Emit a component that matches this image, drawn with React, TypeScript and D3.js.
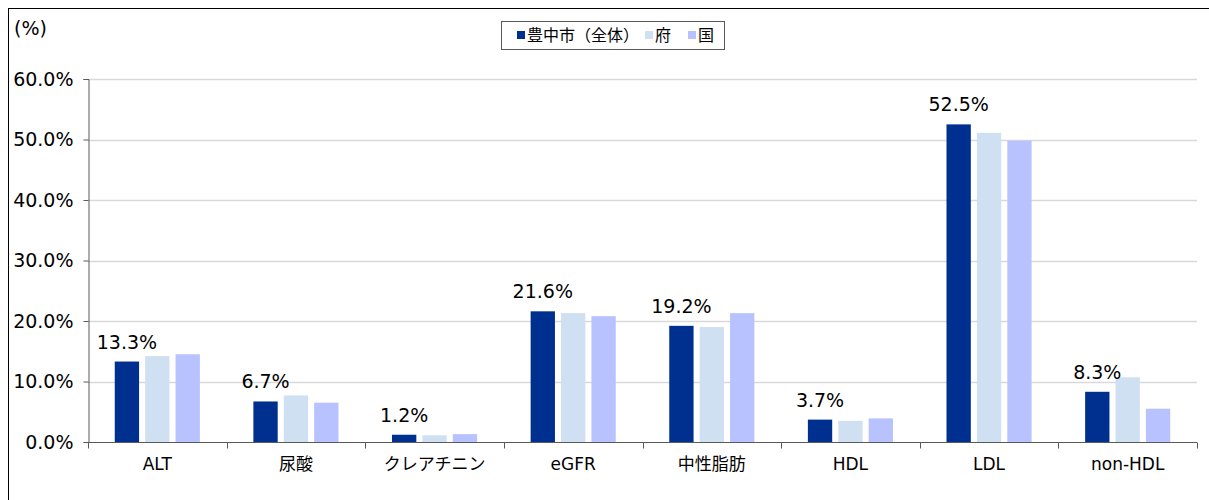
import React, { useEffect, useRef } from "react";
import * as d3 from "d3";

const width = 1209;
const height = 500;
const marginLeft = 88;
const marginRight = 12;
const marginTop = 79;
const marginBottom = 58;

const categories = ["ALT", "尿酸", "クレアチニン", "eGFR", "中性脂肪", "HDL", "LDL", "non-HDL"];
const seriesNames = ["豊中市（全体）", "府", "国"];
const toyonaka = [13.3, 6.7, 1.2, 21.6, 19.2, 3.7, 52.5, 8.3];
const osakaFu = [14.2, 7.7, 1.1, 21.3, 19.0, 3.5, 51.1, 10.7];
const national = [14.5, 6.5, 1.3, 20.8, 21.3, 3.9, 49.8, 5.5];
const yTicks = [0, 10, 20, 30, 40, 50, 60];
const colors = ["#00308f", "#cfe0f2", "#b8c2ff"];

const font = "'DejaVu Sans', 'Noto Sans CJK JP', sans-serif";

export default function App() {
  const ref = useRef<SVGSVGElement>(null);

  useEffect(() => {
    const svg = d3.select(ref.current);
    svg.selectAll("*").remove();

    const values = [toyonaka, osakaFu, national];

    const x0 = d3
      .scaleBand()
      .domain(categories)
      .range([marginLeft, width - marginRight]);

    const x1 = d3
      .scaleBand()
      .domain(seriesNames)
      .range([0, x0.bandwidth()])
      .paddingInner(0.2)
      .paddingOuter(0.88);

    const y = d3
      .scaleLinear()
      .domain([0, 60])
      .range([height - marginBottom, marginTop]);

    // 外枠
    svg
      .append("rect")
      .attr("x", 8.5)
      .attr("y", 8.5)
      .attr("width", width)
      .attr("height", height)
      .attr("fill", "none")
      .attr("stroke", "#000");

    // グリッド線
    svg
      .append("g")
      .selectAll("line")
      .data(yTicks.filter(d => d > 0))
      .join("line")
      .attr("x1", marginLeft)
      .attr("x2", width - marginRight)
      .attr("y1", d => Math.round(y(d)) + 0.5)
      .attr("y2", d => Math.round(y(d)) + 0.5)
      .attr("stroke", "#d9d9d9")
      .attr("stroke-width", 1.5);

    // 棒
    seriesNames.forEach((name, si) => {
      svg
        .append("g")
        .selectAll("rect")
        .data(categories)
        .join("rect")
        .attr("x", c => (x0(c) as number) + (x1(name) as number))
        .attr("y", (c, i) => y(values[si][i]))
        .attr("width", x1.bandwidth())
        .attr("height", (c, i) => y(0) - y(values[si][i]))
        .attr("fill", colors[si]);
    });

    // 値ラベル（豊中市のみ）
    svg
      .append("g")
      .attr("font-family", font)
      .attr("font-size", 19)
      .attr("text-anchor", "middle")
      .selectAll("text")
      .data(categories)
      .join("text")
      .attr("x", c => (x0(c) as number) + (x1(seriesNames[0]) as number) + x1.bandwidth() / 2)
      .attr("y", (c, i) => y(toyonaka[i]) - 13)
      .attr("fill", "#000")
      .text((c, i) => `${toyonaka[i].toFixed(1)}%`);

    // Y軸
    svg
      .append("g")
      .attr("transform", `translate(${marginLeft + 0.5},0)`)
      .call(
        d3
          .axisLeft(y)
          .tickValues(yTicks)
          .tickSize(5)
          .tickPadding(10)
          .tickFormat(d => `${(d as number).toFixed(1)}%`)
      )
      .call(g => g.selectAll("path, line").attr("stroke", "#595959"))
      .call(g =>
        g
          .selectAll("text")
          .attr("font-family", font)
          .attr("font-size", 19)
          .attr("fill", "#000")
      );

    // X軸
    const xAxis = svg
      .append("g")
      .attr("transform", `translate(0,${Math.round(y(0)) + 0.5})`);
    xAxis
      .append("line")
      .attr("x1", marginLeft)
      .attr("x2", width - marginRight)
      .attr("stroke", "#595959");
    xAxis
      .selectAll(".tk")
      .data([...categories.map(c => x0(c) as number), width - marginRight])
      .join("line")
      .attr("class", "tk")
      .attr("x1", d => Math.round(d) + 0.5)
      .attr("x2", d => Math.round(d) + 0.5)
      .attr("y1", 0)
      .attr("y2", 6)
      .attr("stroke", "#595959");
    xAxis
      .selectAll("text")
      .data(categories)
      .join("text")
      .attr("x", c => (x0(c) as number) + x0.bandwidth() / 2)
      .attr("y", 27)
      .attr("text-anchor", "middle")
      .attr("font-family", font)
      .attr("font-size", 17)
      .attr("fill", "#000")
      .text(c => c);

    // 単位
    svg
      .append("text")
      .attr("x", 14)
      .attr("y", 35)
      .attr("font-family", font)
      .attr("font-size", 19)
      .attr("fill", "#000")
      .text("(%)");

    // 凡例
    const legend = svg.append("g").attr("font-family", font).attr("font-size", 16);
    legend
      .append("rect")
      .attr("x", 501.5)
      .attr("y", 21.5)
      .attr("width", 223)
      .attr("height", 28)
      .attr("fill", "#fff")
      .attr("stroke", "#595959");
    const legendX = [517, 645, 688];
    seriesNames.forEach((name, i) => {
      legend
        .append("rect")
        .attr("x", legendX[i])
        .attr("y", 31)
        .attr("width", 8)
        .attr("height", 8)
        .attr("fill", colors[i]);
      legend
        .append("text")
        .attr("x", legendX[i] + 10)
        .attr("y", 41)
        .attr("fill", "#000")
        .text(name);
    });
  }, []);

  return (
    <svg
      ref={ref}
      width={width}
      height={height}
      viewBox={`0 0 ${width} ${height}`}
      style={{ position: "absolute", left: 0, top: 0, background: "#fff" }}
    ></svg>
  );
}
